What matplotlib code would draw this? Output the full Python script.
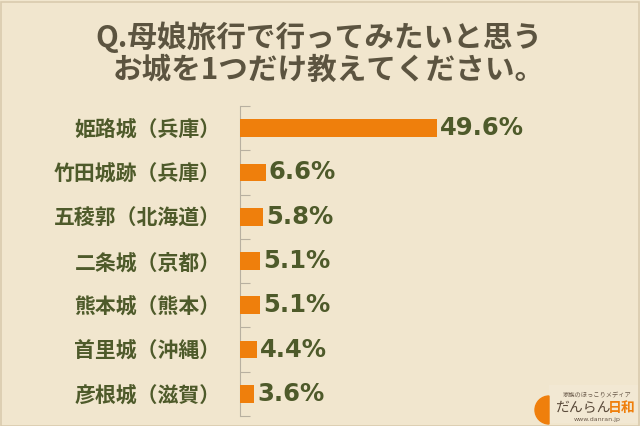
import matplotlib
matplotlib.use("Agg")
import matplotlib.pyplot as plt
from matplotlib.patches import Wedge, Rectangle

plt.rcParams['font.family'] = ['Noto Sans CJK JP', 'DejaVu Sans']

categories = ["姫路城（兵庫）", "竹田城跡（兵庫）", "五稜郭（北海道）", "二条城（京都）",
              "熊本城（熊本）", "首里城（沖縄）", "彦根城（滋賀）"]
values = [49.6, 6.6, 5.8, 5.1, 5.1, 4.4, 3.6]
value_labels = ["49.6%", "6.6%", "5.8%", "5.1%", "5.1%", "4.4%", "3.6%"]
title_lines = ["Q.母娘旅行で行ってみたいと思う", "お城を1つだけ教えてください。"]

bg = "#F1E6CE"
bar_color = "#EF7F0C"
label_color = "#4E5A2A"
title_color = "#5C5440"

fig = plt.figure(figsize=(6.4, 4.26), dpi=100, facecolor=bg)
ax = fig.add_axes([240/640, 1-416/426, 240/640, 310/426])
ax.set_facecolor(bg)

n = len(categories)
pos = list(range(n))
ax.barh(pos, values, height=0.4, color=bar_color, zorder=3)
ax.set_ylim(n - 0.5, -0.5)
ax.set_xlim(0, 60.5)

for p, v, t in zip(pos, values, value_labels):
    ax.text(v + 0.7, p, t, va='center', ha='left', fontsize=17.5, fontweight='bold',
            color=label_color, family=['DejaVu Sans'])

ax.set_yticks(pos)
ax.set_yticklabels(categories, fontsize=15, fontweight='bold', color=label_color)
ax.tick_params(axis='y', which='major', length=0, pad=14)
ax.set_yticks([i - 0.5 for i in range(n + 1)], minor=True)
ax.tick_params(axis='y', which='minor', length=7, direction='in', color='#B8B0A0', width=0.8)
ax.set_xticks([])
for s in ['top', 'right', 'bottom']:
    ax.spines[s].set_visible(False)
ax.spines['left'].set_color('#B8B0A0')
ax.spines['left'].set_linewidth(0.8)

fig.text(319/640, 1-37/426, title_lines[0], ha='center', va='center', fontsize=21.3,
         fontweight='bold', color=title_color)
fig.text(329/640, 1-70/426, title_lines[1], ha='center', va='center', fontsize=21.3,
         fontweight='bold', color=title_color)

# border
fig.patches.append(Rectangle((1/640, 0), 1 - 2/640, 1 - 2/426, transform=fig.transFigure,
                             fill=False, edgecolor='#D9CBAE', linewidth=1.2))

# logo
lax = fig.add_axes([0, 0, 1, 1], facecolor='none')
lax.set_xlim(0, 640)
lax.set_ylim(426, 0)
lax.axis('off')
lax.add_patch(Rectangle((549, 385), 89, 38, facecolor='#F2E8D3', edgecolor='none', zorder=1))
lax.add_patch(Wedge((549, 410), 14, 90, 270, color=bar_color, zorder=2))
lax.text(597, 395, "家族のほっこりメディア", fontsize=4.5, color='#6A5A4A', ha='center', va='center')
lax.text(555, 408, "だんらん", fontsize=10, color='#5A4A3A', ha='left', va='center', style='italic')
lax.text(608, 408, "日和", fontsize=10, color=bar_color, ha='left', va='center', fontweight='bold')
lax.text(597, 419, "www.danran.jp", fontsize=4.5, color='#6A5A4A', ha='center', va='center',
         family=['DejaVu Sans'])

fig.savefig("out.png", dpi=100, facecolor=bg)
